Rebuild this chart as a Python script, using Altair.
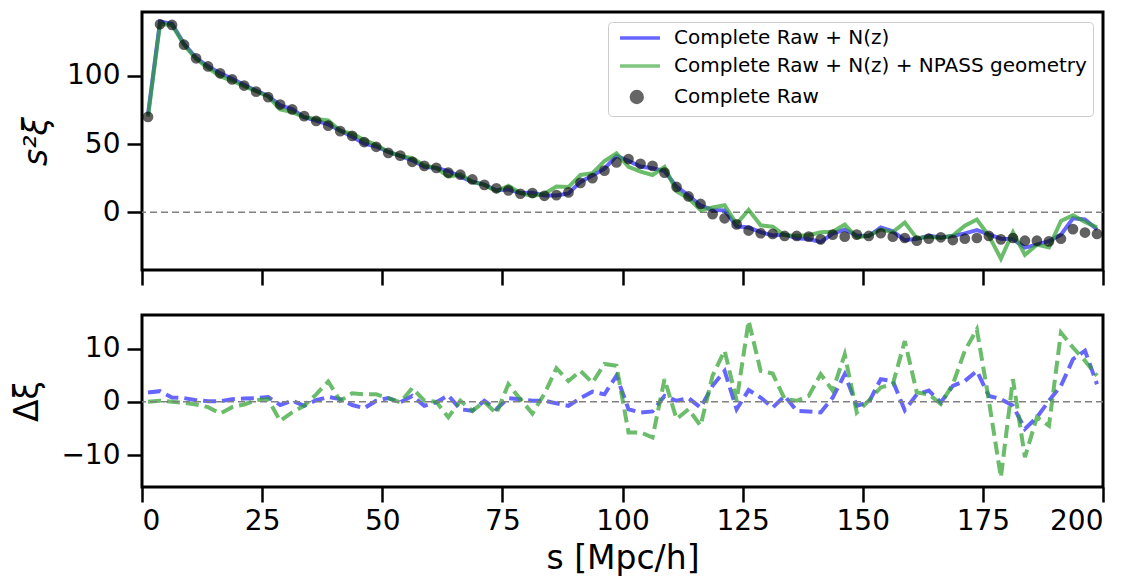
import altair as alt
import pandas as pd

# bin centres s [Mpc/h]
S = [1.25, 3.75, 6.25, 8.75, 11.25, 13.75, 16.25, 18.75, 21.25, 23.75,
     26.25, 28.75, 31.25, 33.75, 36.25, 38.75, 41.25, 43.75, 46.25, 48.75,
     51.25, 53.75, 56.25, 58.75, 61.25, 63.75, 66.25, 68.75, 71.25, 73.75,
     76.25, 78.75, 81.25, 83.75, 86.25, 88.75, 91.25, 93.75, 96.25, 98.75,
     101.25, 103.75, 106.25, 108.75, 111.25, 113.75, 116.25, 118.75, 121.25, 123.75,
     126.25, 128.75, 131.25, 133.75, 136.25, 138.75, 141.25, 143.75, 146.25, 148.75,
     151.25, 153.75, 156.25, 158.75, 161.25, 163.75, 166.25, 168.75, 171.25, 173.75,
     176.25, 178.75, 181.25, 183.75, 186.25, 188.75, 191.25, 193.75, 196.25, 198.75]

# s^2 xi of the Complete Raw sample
RAW = [70, 138, 137.5, 123, 113, 107, 102, 97.5, 93, 88.5,
       84.5, 79, 75.5, 70.5, 67, 63.5, 59.5, 56, 51.5, 48,
       43.5, 41.5, 37, 34, 32.5, 29, 27.5, 24, 20, 17.5,
       16, 13.5, 14, 12, 12.5, 14.5, 21.5, 25, 30.5, 36.5,
       39, 35.5, 34, 29, 18.5, 11.5, 6, -1.5, -4.5, -9,
       -13.5, -15.5, -16, -17.5, -17.5, -18, -20, -16.5, -18, -16.5,
       -17.5, -15.5, -18, -19, -21, -19.5, -18.5, -20.5, -19.5, -19,
       -17.5, -20, -19, -21, -21, -21.5, -19.5, -12.5, -15, -16]

# Delta xi (variant minus Complete Raw)
D_BLUE = [1.75, 2.0, 0.8, 0.7, 0.3, 0.1, 0.1, 0.5, 0.6, 0.7,
          0.9, -0.6, 0.2, -0.75, 0.3, 0.9, 0.5, -0.6, -1.2, 0.2,
          0.7, -0.1, 1.1, -0.75, -0.1, 1.2, -1.4, -1.7, 0.2, -1.4,
          0.7, 0.5, 0.2, 0.2, -0.3, -0.75, 0.7, 1.9, 1.4, 4.9,
          -1.4, -2.0, -1.8, 1.1, 0.2, 0.7, -1.1, 3.0, 5.8, -1.4,
          2.2, 0.8, -1.1, 1.1, -1.7, -1.8, -2.0, 0.8, 5.2, -0.75,
          -0.1, 4.25, 3.9, -1.6, 1.4, 2.1, -0.1, 3.0, 3.9, 5.8,
          1.1, 0.5, -0.75, -5.1, -2.9, 0.2, 3.0, 8.0, 9.6, 3.3]

D_GREEN = [0, 0.2, 0, -0.2, -0.5, -1.0, -2.2, -1.0, -0.5, 0.3,
           0.5, -3.6, -2.0, -0.75, 1.4, 3.8, 0.2, 1.6, 1.4, 1.4,
           0.7, -0.1, 2.6, 0.2, 0, -2.9, 0.2, -1.7, 0, -2.2,
           3.3, 0.5, -2.2, 1.5, 6.3, 3.9, 5.8, 3.6, 7.1, 6.75,
           -5.75, -5.75, -6.7, 4.25, -3.25, -1.4, -4.5, 4.9, 9.6, 0.2,
           15.2, 5.8, 5.3, 0.5, 0.2, 1.1, 5.2, 2.1, 8.9, -2.0,
           0.2, 2.7, 3.3, 11.4, 1.75, 1.4, -0.4, 3.3, 9.6, 13.6,
           0.2, -14.2, 4.25, -10.4, -2.9, -4.5, 13.0, 10.2, 7.7, 4.9]

LBL_B = "Complete Raw + N(z)"
LBL_G = "Complete Raw + N(z) + NPASS geometry"
LBL_R = "Complete Raw"
SERIES = [LBL_B, LBL_G, LBL_R]
X_TICKS = [0, 25, 50, 75, 100, 125, 150, 175, 200]

blue_top = pd.DataFrame({"s": S, "val": [r + d for r, d in zip(RAW, D_BLUE)], "series": LBL_B})
green_top = pd.DataFrame({"s": S, "val": [r + d for r, d in zip(RAW, D_GREEN)], "series": LBL_G})
raw_df = pd.DataFrame({"s": S, "val": RAW, "series": LBL_R})
blue_bot = pd.DataFrame({"s": S, "val": D_BLUE, "series": LBL_B})
green_bot = pd.DataFrame({"s": S, "val": D_GREEN, "series": LBL_G})
zero_df = pd.DataFrame({"y": [0]})
legend_only = pd.DataFrame({"s": [], "val": [], "series": []})

# legend symbol glyphs (long line for the curves, small dot for the points)
LINE_SYM = "M-0.5,0H4.5"
DOT_SYM = "M2.275,0A0.675,0.675,0,1,1,0.925,0A0.675,0.675,0,1,1,2.275,0Z"

color_scale = alt.Scale(domain=SERIES, range=["#0000ff", "#2ca02c", "#000000"])
shape_scale = alt.Scale(domain=SERIES, range=[LINE_SYM, LINE_SYM, DOT_SYM])

W = 961
x_top = alt.X("s:Q", scale=alt.Scale(domain=[0, 200], nice=False),
              axis=alt.Axis(values=X_TICKS, labels=False, title=None, grid=False))
x_bot = alt.X("s:Q", scale=alt.Scale(domain=[0, 200], nice=False),
              axis=alt.Axis(values=X_TICKS, title="s [Mpc/h]", grid=False,
                            labelPadding=5, titlePadding=7))

y_top = alt.Y("val:Q", scale=alt.Scale(domain=[-42.5, 147], nice=False, zero=False),
              axis=alt.Axis(values=[0, 50, 100], title="s²ξ", titleFontStyle="italic",
                            grid=False, titleX=-89))
y_bot = alt.Y("val:Q", scale=alt.Scale(domain=[-16, 16.3], nice=False, zero=False),
              axis=alt.Axis(values=[-10, 0, 10], title="Δξ", grid=False, titleX=-98))

legend = alt.Legend(title=None, orient="top-right", offset=10, padding=6,
                    strokeColor="#cccccc", fillColor="white", cornerRadius=4,
                    labelFontSize=20, labelFont="DejaVu Sans", symbolStrokeWidth=3.5,
                    symbolSize=256, rowPadding=8, labelOffset=40, labelLimit=0)

zero_top = alt.Chart(zero_df).mark_rule(color="gray", strokeWidth=1.5, strokeDash=[7, 4]).encode(y="y:Q")
blue_line = alt.Chart(blue_top).mark_line(strokeWidth=4, opacity=0.6).encode(
    x=x_top, y=y_top, color=alt.Color("series:N", scale=color_scale, legend=legend))
green_line = alt.Chart(green_top).mark_line(strokeWidth=4, opacity=0.7).encode(
    x=x_top, y=y_top, color=alt.Color("series:N", scale=color_scale, legend=legend))
raw_pts = alt.Chart(raw_df).mark_point(filled=True, shape="circle", size=115, opacity=0.62).encode(
    x=x_top, y=y_top,
    color=alt.Color("series:N", scale=color_scale, legend=legend))
legend_shapes = alt.Chart(legend_only).mark_point(filled=True, size=256).encode(
    x=x_top, y=y_top,
    shape=alt.Shape("series:N", scale=shape_scale, legend=legend))

top = alt.layer(zero_top, blue_line, green_line, raw_pts, legend_shapes).properties(width=W, height=258)

blue_d = alt.Chart(blue_bot).mark_line(strokeWidth=4, opacity=0.6, strokeDash=[13, 6]).encode(
    x=x_bot, y=y_bot, color=alt.Color("series:N", scale=color_scale, legend=None))
green_d = alt.Chart(green_bot).mark_line(strokeWidth=4, opacity=0.7, strokeDash=[13, 6]).encode(
    x=x_bot, y=y_bot, color=alt.Color("series:N", scale=color_scale, legend=None))
zero_bot = alt.Chart(zero_df).mark_rule(color="gray", strokeWidth=1.5, strokeDash=[7, 4]).encode(y="y:Q")

bottom = alt.layer(blue_d, green_d, zero_bot).properties(width=W, height=172)

chart = alt.vconcat(top, bottom, spacing=23).properties(
    padding={"left": 1, "top": 2, "right": 5, "bottom": 0}
).configure(font="DejaVu Sans").configure_view(
    stroke="black", strokeWidth=3
).configure_axis(
    domain=False, ticks=True, tickSize=15, tickWidth=2.5, tickColor="black",
    labelFontSize=28, labelColor="black", labelFont="DejaVu Sans", labelPadding=7,
    titleFontSize=33, titleFontWeight="normal", titleColor="black", titleFont="DejaVu Sans"
)

chart.save("out.html", embed_options={"renderer": "svg", "actions": False})
